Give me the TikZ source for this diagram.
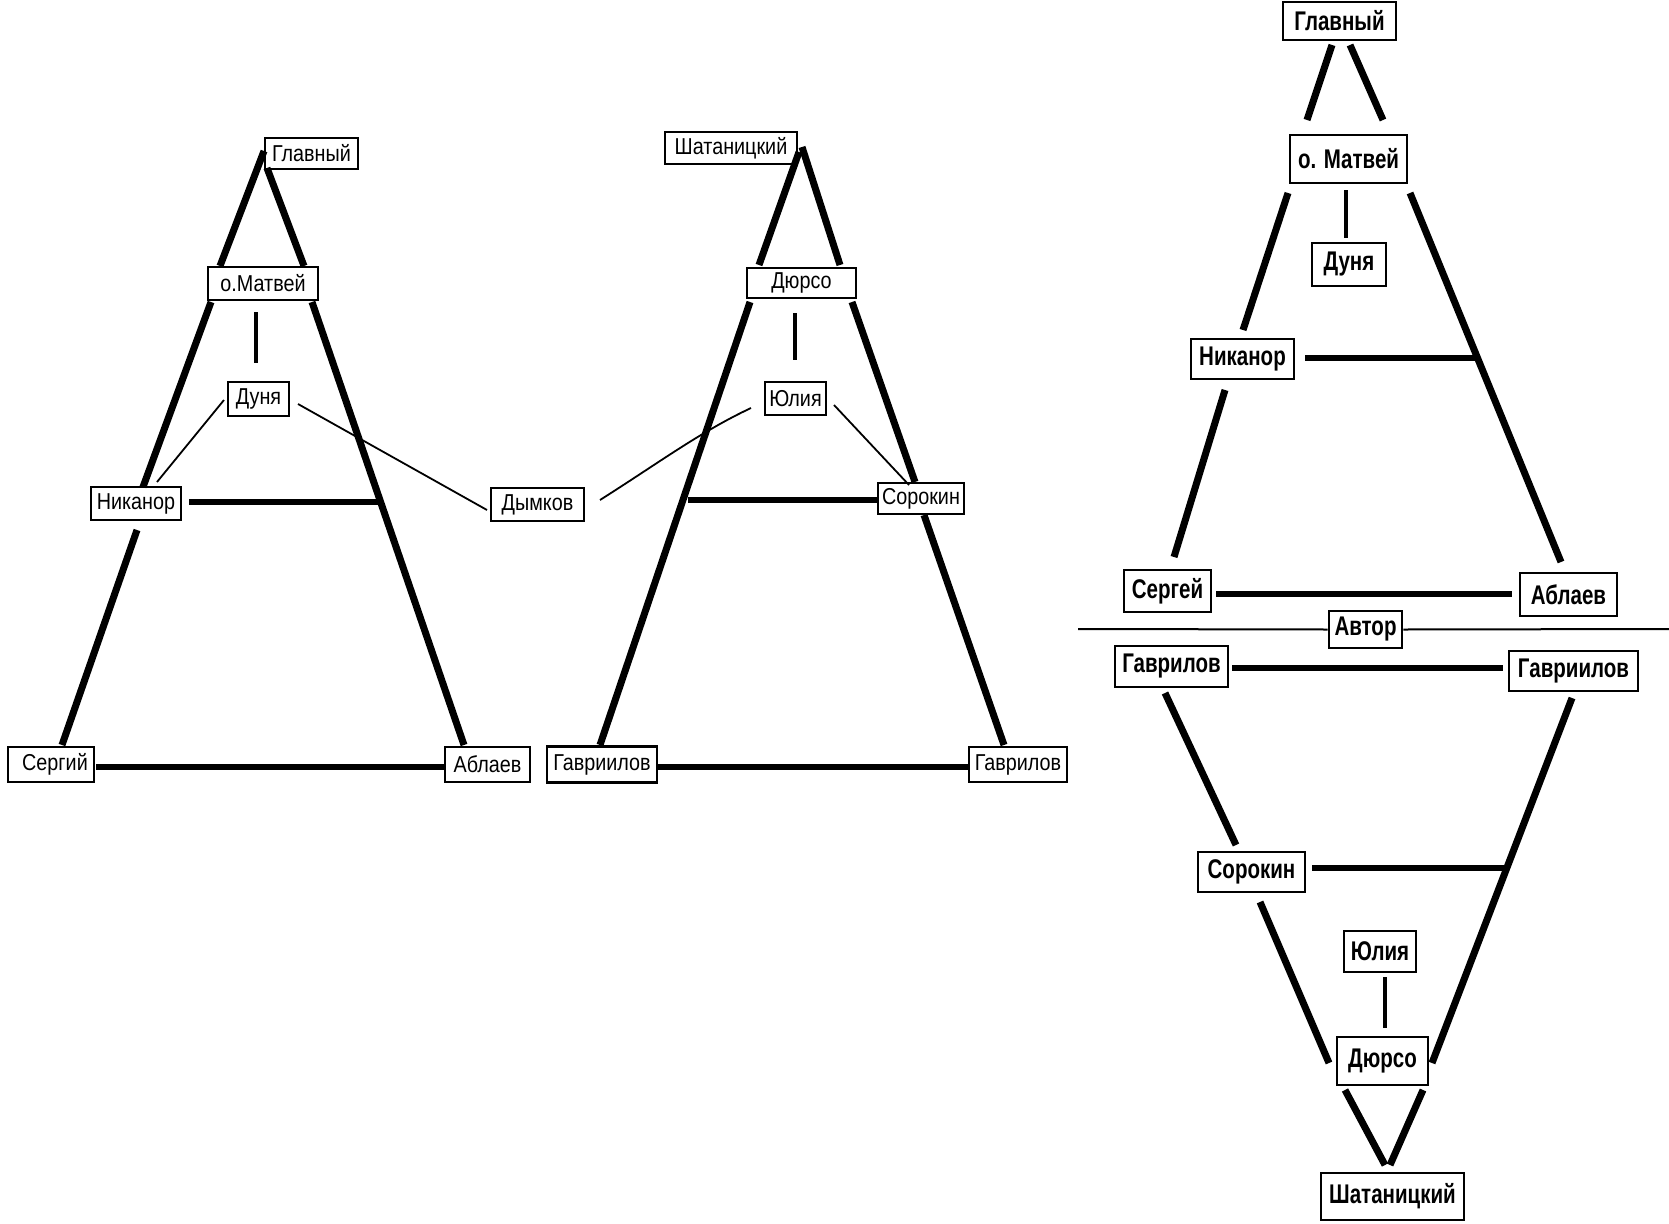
\documentclass[tikz,border=0pt]{standalone}
\usepackage{fontspec}
\newfontfamily\lfont[FakeStretch=0.86]{Liberation Sans}
\newfontfamily\rfont[FakeStretch=0.76]{Liberation Sans}
\tikzset{
  lbox/.style={draw, line width=2.4pt, inner sep=0pt, font=\lfont\fontsize{23}{27}\selectfont},
  rbox/.style={draw, line width=2.6pt, inner sep=0pt, font=\rfont\bfseries\fontsize{27}{31}\selectfont},
  thickline/.style={line width=7pt},
  hline/.style={line width=5.5pt},
  vline/.style={line width=4pt},
  thinline/.style={line width=1.8pt},
  sepline/.style={line width=2pt}
}
\begin{document}
\begin{tikzpicture}[x=1pt,y=-1pt]
\fill[white] (0,0) rectangle (1669,1223);
\useasboundingbox (0,0) rectangle (1669,1223);

% ---------------- Left diagram ----------------
\node[lbox, minimum width=93pt, minimum height=31pt] (gl1) at (311.5,153.5) {Главный};
\node[lbox, minimum width=110pt, minimum height=33pt] (mat1) at (263,283.5) {о.Матвей};
\node[lbox, minimum width=61pt, minimum height=34pt] (dun1) at (258.5,399) {Дуня};
\node[lbox, minimum width=90pt, minimum height=33pt] (nik1) at (136,503.5) {Никанор};
\node[lbox, minimum width=93pt, minimum height=33pt] (dym) at (537.5,504.5) {Дымков};
\node[lbox, minimum width=86pt, minimum height=35pt] (ser1) at (51,764.5) {\hspace{8pt}Сергий};
\node[lbox, minimum width=85pt, minimum height=35pt] (abl1) at (487.5,764.5) {Аблаев};

\coordinate (a1) at (264,151);
\coordinate (a2) at (220,266);
\coordinate (a3) at (267,168);
\coordinate (a4) at (304,266);
\coordinate (a5) at (211,302);
\coordinate (a6) at (143,487);
\coordinate (a7) at (137,530);
\coordinate (a8) at (62,745);
\coordinate (a9) at (312,302);
\coordinate (a10) at (464,745);
\coordinate (a11) at (189,502);
\coordinate (a12) at (380,502);
\coordinate (a13) at (96,767);
\coordinate (a14) at (445,767);
\coordinate (a15) at (256,312);
\coordinate (a16) at (256,363);
\coordinate (a17) at (224,400);
\coordinate (a18) at (157,482);
\coordinate (a19) at (298,404);
\coordinate (a20) at (487,510);

\draw[thickline] (a1) -- (a2);
\draw[thickline] (a3) -- (a4);
\draw[thickline] (a5) -- (a6);
\draw[thickline] (a7) -- (a8);
\draw[thickline] (a9) -- (a10);
\draw[hline] (a11) -- (a12);
\draw[hline] (a13) -- (a14);
\draw[vline] (a15) -- (a16);
\draw[thinline] (a17) -- (a18);
\draw[thinline] (a19) -- (a20);

% ---------------- Middle diagram ----------------
\node[lbox, minimum width=132pt, minimum height=32pt] (sha2) at (731,148) {Шатаницкий};
\node[lbox, minimum width=109pt, minimum height=30pt] (dur2) at (801.5,283) {Дюрсо};
\node[lbox, minimum width=61pt, minimum height=33pt] (yul2) at (795.5,398.5) {Юлия};
\node[lbox, minimum width=86pt, minimum height=31pt] (sor2) at (921,498.5) {Сорокин};
\node[lbox, minimum width=110pt, minimum height=36pt] (gavii2) at (602,764.5) {Гавриилов};
\node[lbox, minimum width=98pt, minimum height=35pt] (gav2) at (1018,764.5) {Гаврилов};

\coordinate (b1) at (799,152);
\coordinate (b2) at (759,265);
\coordinate (b3) at (802,147);
\coordinate (b4) at (840,265);
\coordinate (b5) at (750,302);
\coordinate (b6) at (600,745);
\coordinate (b7) at (852,302);
\coordinate (b8) at (915,482);
\coordinate (b9) at (924,515);
\coordinate (b10) at (1004,745);
\coordinate (b11) at (688,500);
\coordinate (b11e) at (878,500);
\coordinate (b12) at (795,313);
\coordinate (b13) at (795,360);
\coordinate (b14) at (751,408);
\coordinate (b15) at (600,500);
\coordinate (b16) at (834,405);
\coordinate (b17) at (909,485);
\coordinate (b18) at (657,767);
\coordinate (b19) at (969,767);

\draw[thickline] (b1) -- (b2);
\draw[thickline] (b3) -- (b4);
\draw[thickline] (b5) -- (b6);
\draw[thickline] (b7) -- (b8);
\draw[thickline] (b9) -- (b10);
\draw[hline] (b11) -- (b11e);
\draw[hline] (b18) -- (b19);
\draw[vline] (b12) -- (b13);
\draw[thinline] (b14) .. controls (700,432) and (660,462) .. (b15);
\draw[thinline] (b16) -- (b17);

% ---------------- Right diagram ----------------
\node[rbox, minimum width=113pt, minimum height=38pt] (gl3) at (1339.5,21) {Главный};
\node[rbox, minimum width=117pt, minimum height=48pt] (mat3) at (1348.5,159) {о. Матвей};
\node[rbox, minimum width=74pt, minimum height=43pt] (dun3) at (1349,264.5) {Дуня};
\node[rbox, minimum width=103pt, minimum height=40pt] (nik3) at (1242.5,359) {Никанор};
\node[rbox, minimum width=87pt, minimum height=42pt] (ser3) at (1167.5,591) {Сергей};
\node[rbox, minimum width=97pt, minimum height=43pt] (abl3) at (1568.5,594.5) {Аблаев};
\node[rbox, minimum width=73pt, minimum height=37pt] (avt) at (1365.5,629.5) {Автор};
\node[rbox, minimum width=113pt, minimum height=41pt] (gav3) at (1171.5,666.5) {Гаврилов};
\node[rbox, minimum width=129pt, minimum height=40pt] (gavii3) at (1573.5,671) {Гавриилов};
\node[rbox, minimum width=107pt, minimum height=40pt] (sor3) at (1251.5,872) {Сорокин};
\node[rbox, minimum width=72pt, minimum height=41pt] (yul3) at (1380,951.5) {Юлия};
\node[rbox, minimum width=91pt, minimum height=48pt] (dur3) at (1382.5,1061) {Дюрсо};
\node[rbox, minimum width=143pt, minimum height=47pt] (sha3) at (1392.5,1196.5) {Шатаницкий};

\coordinate (c1) at (1332,45);
\coordinate (c2) at (1307,120);
\coordinate (c3) at (1350,45);
\coordinate (c4) at (1383,120);
\coordinate (c5) at (1288,193);
\coordinate (c6) at (1243,330);
\coordinate (c7) at (1225,390);
\coordinate (c8) at (1174,557);
\coordinate (c9) at (1410,193);
\coordinate (c10) at (1561,562);
\coordinate (c11) at (1305,358);
\coordinate (c12) at (1480,358);
\coordinate (c13) at (1216,594);
\coordinate (c14) at (1512,594);
\coordinate (c15) at (1078,629);
\coordinate (c16) at (1669,629);
\coordinate (c17) at (1232,668);
\coordinate (c18) at (1503,668);
\coordinate (c19) at (1165,693);
\coordinate (c20) at (1236,845);
\coordinate (c21) at (1572,698);
\coordinate (c22) at (1432,1063);
\coordinate (c23) at (1312,868);
\coordinate (c24) at (1507,868);
\coordinate (c25) at (1260,902);
\coordinate (c26) at (1329,1063);
\coordinate (c27) at (1385,977);
\coordinate (c28) at (1385,1028);
\coordinate (c29) at (1345,1090);
\coordinate (c30) at (1385,1165);
\coordinate (c31) at (1423,1090);
\coordinate (c32) at (1390,1165);
\coordinate (c33) at (1346,190);
\coordinate (c34) at (1346,238);

\draw[thickline] (c1) -- (c2);
\draw[thickline] (c3) -- (c4);
\draw[thickline] (c5) -- (c6);
\draw[thickline] (c7) -- (c8);
\draw[thickline] (c9) -- (c10);
\draw[hline] (c11) -- (c12);
\draw[hline] (c13) -- (c14);
\draw[sepline] (c15) -- (avt.west);
\draw[sepline] (avt.east) -- (c16);
\draw[hline] (c17) -- (c18);
\draw[thickline] (c19) -- (c20);
\draw[thickline] (c21) -- (c22);
\draw[hline] (c23) -- (c24);
\draw[thickline] (c25) -- (c26);
\draw[vline] (c27) -- (c28);
\draw[thickline] (c29) -- (c30);
\draw[thickline] (c31) -- (c32);
\draw[vline] (c33) -- (c34);
\end{tikzpicture}
\end{document}
